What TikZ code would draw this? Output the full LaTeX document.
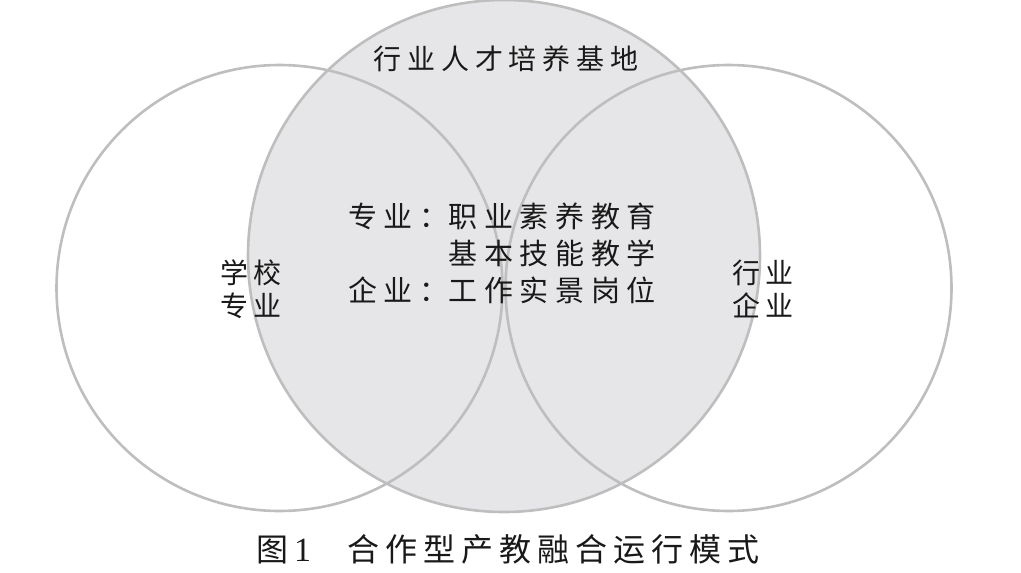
\documentclass[tikz,border=0pt]{standalone}
\usepackage{fontspec}
\setmainfont{Liberation Serif}
\newfontfamily\cjk{Noto Sans CJK SC}[LetterSpace=18]
\newfontfamily\cjktop{Noto Sans CJK SC}[LetterSpace=21]
\newfontfamily\cjkmid{Noto Sans CJK SC}[LetterSpace=23]
\newfontfamily\cjkcap{Noto Sans CJK SC}[LetterSpace=19]
\definecolor{ringgray}{HTML}{BEBEBE}
\definecolor{fillgray}{HTML}{E6E6E8}
\begin{document}
\begin{tikzpicture}[x=1pt,y=-1pt]
\tikzset{
  ring/.style={draw=ringgray,line width=2.6pt},
  lbl/.style={text=black!90,inner sep=0pt,align=center},
}
\useasboundingbox (0,0) rectangle (1021,573);
\fill[white] (0,0) rectangle (1021,573);
\fill[fillgray] (504,256) circle[radius=256];
\draw[ring] (504,256) circle[radius=256];
\draw[ring] (279.5,288) circle[radius=223];
\draw[ring] (728.5,288) circle[radius=223];
\node[lbl,font=\cjktop\fontsize{28}{33}\selectfont] (base) at (506,59) {行业人才培养基地};
\node[lbl,font=\cjk\fontsize{28}{33}\selectfont] (school) at (251,289) {学校\\专业};
\node[lbl,font=\cjk\fontsize{28}{33}\selectfont] (industry) at (763,289) {行业\\企业};
\node[lbl,font=\cjkmid\fontsize{29}{37}\selectfont,anchor=west] (core) at (348,257)
  {\begin{tabular}{@{}r@{}l@{}}专业：&职业素养教育\\ &基本技能教学\\ 企业：&工作实景岗位\end{tabular}};
\node[lbl,font=\cjkcap\fontsize{32}{36}\selectfont] (caption) at (508,549) {图\hspace{6pt}{\rmfamily\fontsize{34}{36}\selectfont 1}\hspace{36pt}合作型产教融合运行模式};
\end{tikzpicture}
\end{document}
